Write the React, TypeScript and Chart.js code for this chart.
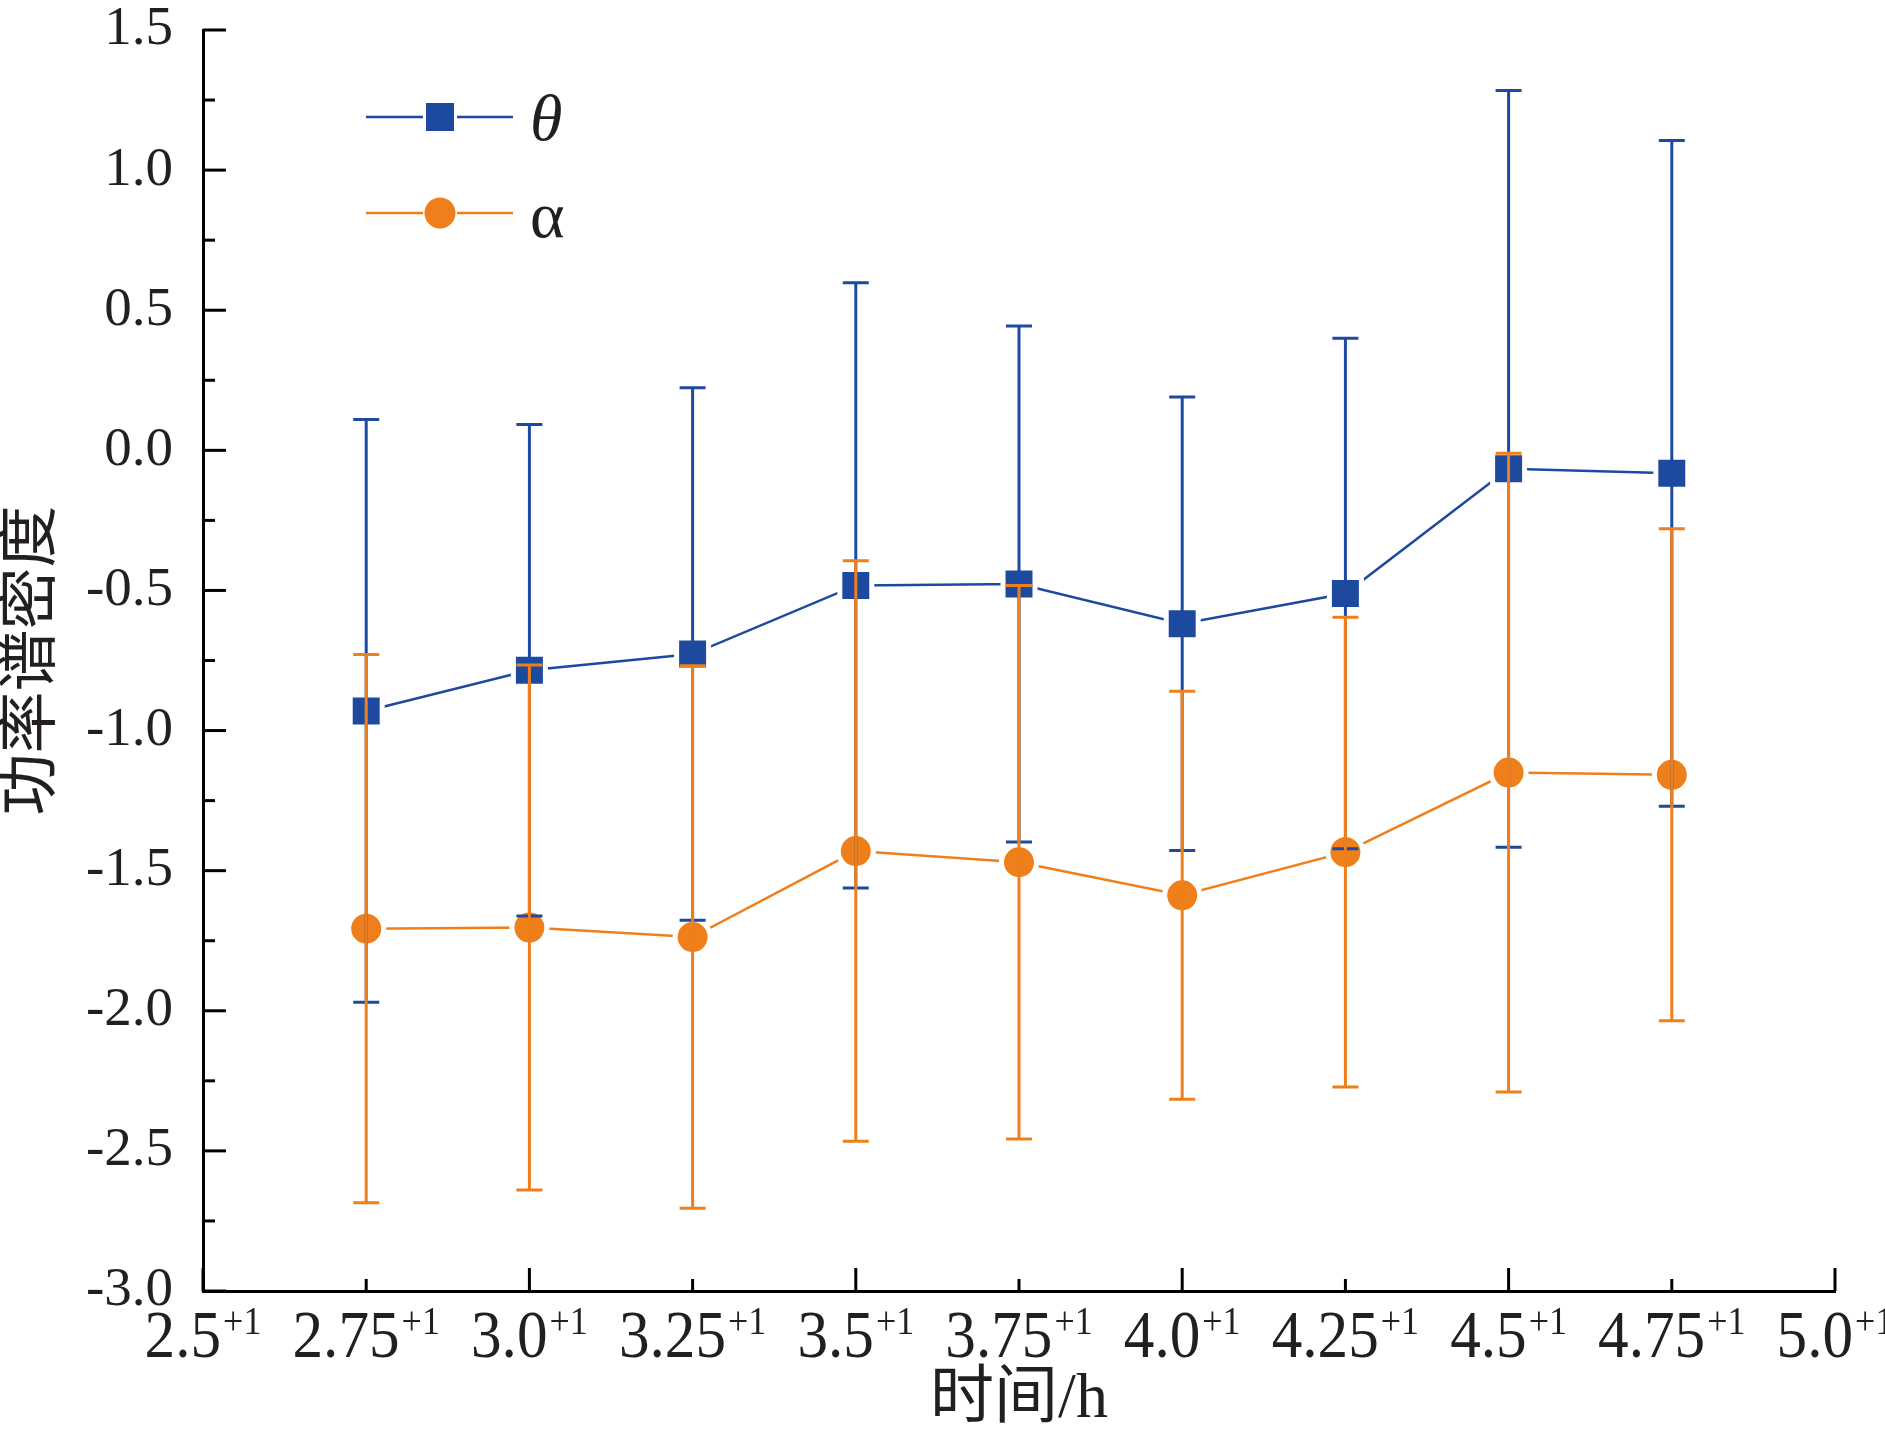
import React, { useEffect, useRef } from "react";
import { Chart, registerables } from "chart.js";

Chart.register(...registerables);

// ---- data ----
const times = [2.75, 3.0, 3.25, 3.5, 3.75, 4.0, 4.25, 4.5, 4.75];
const thetaMean = [-0.93, -0.785, -0.727, -0.482, -0.477, -0.619, -0.511, -0.066, -0.082];
const thetaErr = [1.04, 0.877, 0.95, 1.08, 0.921, 0.809, 0.911, 1.35, 1.188];
const alphaMean = [-1.707, -1.703, -1.737, -1.43, -1.47, -1.588, -1.434, -1.15, -1.158];
const alphaErr = [0.978, 0.937, 0.968, 1.036, 0.988, 0.728, 0.838, 1.14, 0.878];
const seriesNames = ["θ", "α"];
const xTickSuffix = "+1";
const xTitle = "时间/h";
const yTitle = "功率谱密度";

const BLUE = "#1d4a9e";
const ORANGE = "#ef7f1a";
const INK = "#231f20";
const SERIF = '"Liberation Serif", "Times New Roman", "Noto Sans CJK SC", serif';

const isHalf = (v: number) => Math.abs(v * 2 - Math.round(v * 2)) < 1e-6;

const errorBarPlugin = {
  id: "errorBars",
  afterDatasetsDraw(chart: any) {
    const { ctx } = chart;
    const xs = chart.scales.x;
    const ys = chart.scales.y;
    const groups = [
      { mean: thetaMean, err: thetaErr, color: BLUE },
      { mean: alphaMean, err: alphaErr, color: ORANGE },
    ];
    ctx.save();
    ctx.lineWidth = 3;
    ctx.lineCap = "butt";
    for (const g of groups) {
      ctx.strokeStyle = g.color;
      times.forEach((t, i) => {
        const px = xs.getPixelForValue(t);
        const top = ys.getPixelForValue(g.mean[i] + g.err[i]);
        const bot = ys.getPixelForValue(g.mean[i] - g.err[i]);
        ctx.beginPath();
        ctx.moveTo(px, top);
        ctx.lineTo(px, bot);
        ctx.moveTo(px - 13, top);
        ctx.lineTo(px + 13, top);
        ctx.moveTo(px - 13, bot);
        ctx.lineTo(px + 13, bot);
        ctx.stroke();
      });
    }
    ctx.restore();
  },
};

const axisDecorPlugin = {
  id: "axisDecor",
  afterDraw(chart: any) {
    const { ctx, chartArea: a } = chart;
    const xs = chart.scales.x;
    const ys = chart.scales.y;
    ctx.save();
    // inward ticks
    ctx.strokeStyle = "#000";
    ctx.lineWidth = 3;
    for (const t of ys.ticks) {
      const py = ys.getPixelForValue(t.value);
      const len = isHalf(t.value) ? 23 : 12;
      ctx.beginPath();
      ctx.moveTo(a.left, py);
      ctx.lineTo(a.left + len, py);
      ctx.stroke();
    }
    for (const t of xs.ticks) {
      const px = xs.getPixelForValue(t.value);
      const len = isHalf(t.value) ? 23 : 12;
      ctx.beginPath();
      ctx.moveTo(px, a.bottom);
      ctx.lineTo(px, a.bottom - len);
      ctx.stroke();
    }
    // x tick labels with superscript
    ctx.fillStyle = INK;
    ctx.textAlign = "left";
    ctx.textBaseline = "alphabetic";
    const mainFont = `68px ${SERIF}`;
    const supFont = `40px ${SERIF}`;
    const sx = 0.9;
    for (const t of xs.ticks) {
      const v = t.value;
      const main = isHalf(v) ? v.toFixed(1) : v.toFixed(2);
      ctx.font = mainFont;
      const wm = ctx.measureText(main).width * sx;
      ctx.font = supFont;
      const ws = ctx.measureText(xTickSuffix).width * sx;
      const total = wm + 2 + ws;
      const x0 = xs.getPixelForValue(v) - total / 2;
      ctx.save();
      ctx.translate(x0, a.bottom + 66);
      ctx.scale(sx, 1);
      ctx.font = mainFont;
      ctx.fillText(main, 0, 0);
      ctx.restore();
      ctx.save();
      ctx.translate(x0 + wm + 2, a.bottom + 43);
      ctx.scale(sx, 1);
      ctx.font = supFont;
      ctx.fillText(xTickSuffix, 0, 0);
      ctx.restore();
    }

    // legend
    const rows = [
      { name: seriesNames[0], color: BLUE, shape: "rect", italic: true, dy: 87, base: 110 },
      { name: seriesNames[1], color: ORANGE, shape: "circle", italic: false, dy: 183, base: 207 },
    ];
    for (const r of rows) {
      const cy = a.top + r.dy;
      const cx = a.left + 237;
      ctx.strokeStyle = r.color;
      ctx.lineWidth = 2.5;
      ctx.beginPath();
      ctx.moveTo(a.left + 163, cy);
      ctx.lineTo(cx - 17, cy);
      ctx.moveTo(cx + 17, cy);
      ctx.lineTo(a.left + 310, cy);
      ctx.stroke();
      ctx.fillStyle = r.color;
      ctx.beginPath();
      if (r.shape === "rect") {
        ctx.rect(cx - 14, cy - 14, 28, 28);
      } else {
        ctx.arc(cx, cy, 15.5, 0, Math.PI * 2);
      }
      ctx.fill();
      ctx.fillStyle = INK;
      ctx.font = `${r.italic ? "italic " : ""}66px ${SERIF}`;
      ctx.fillText(r.name, a.left + 327, a.top + r.base);
    }
    ctx.restore();
  },
};

export default function App() {
  const canvasRef = useRef<HTMLCanvasElement | null>(null);

  useEffect(() => {
    document.body.style.margin = "0";
    const canvas = canvasRef.current;
    if (!canvas) return;
    const chart = new Chart(canvas, {
      type: "scatter",
      data: {
        datasets: [
          {
            label: seriesNames[0],
            data: times.map((t, i) => ({ x: t, y: thetaMean[i] })),
            showLine: true,
            borderColor: BLUE,
            borderWidth: 2.5,
            backgroundColor: BLUE,
            pointStyle: "rect",
            pointRadius: 22.6,
            pointBorderColor: "#ffffff",
            pointBorderWidth: 5,
            pointBackgroundColor: BLUE,
          },
          {
            label: seriesNames[1],
            data: times.map((t, i) => ({ x: t, y: alphaMean[i] })),
            showLine: true,
            borderColor: ORANGE,
            borderWidth: 2.5,
            backgroundColor: ORANGE,
            pointStyle: "circle",
            pointRadius: 17.5,
            pointBorderColor: "#ffffff",
            pointBorderWidth: 5,
            pointBackgroundColor: ORANGE,
          },
        ],
      },
      options: {
        responsive: false,
        animation: false,
        devicePixelRatio: 1,
        events: [],
        layout: { padding: { left: 0, top: 30, right: 50, bottom: 0 } },
        plugins: {
          legend: { display: false },
          tooltip: { enabled: false },
          title: { display: false },
        },
        scales: {
          x: {
            type: "linear",
            min: 2.5,
            max: 5.0,
            ticks: { stepSize: 0.25, autoSkip: false, display: false },
            grid: { display: false, drawTicks: false },
            border: { display: true, color: "#000", width: 3 },
            title: {
              display: true,
              text: xTitle,
              color: INK,
              font: { family: SERIF, size: 64, lineHeight: 1.2 },
              padding: { top: 0, bottom: 6 },
            },
            afterFit: (s: any) => {
              s.height = 154;
              s.paddingLeft = 0;
              s.paddingRight = 0;
            },
          },
          y: {
            type: "linear",
            min: -3,
            max: 1.5,
            ticks: {
              stepSize: 0.25,
              autoSkip: false,
              padding: 30,
              color: INK,
              font: { family: SERIF, size: 55 },
              callback: (v: any) => (isHalf(Number(v)) ? Number(v).toFixed(1) : ""),
            },
            grid: { display: false, drawTicks: false },
            border: { display: true, color: "#000", width: 3 },
            title: {
              display: true,
              text: yTitle,
              color: INK,
              font: { family: SERIF, size: 62, lineHeight: 1.1 },
              padding: { top: 0, bottom: 0 },
            },
            afterFit: (s: any) => {
              s.width = 203;
              s.paddingTop = 0;
              s.paddingBottom = 0;
            },
          },
        },
      } as any,
      plugins: [errorBarPlugin, axisDecorPlugin],
    });
    return () => chart.destroy();
  }, []);

  return (
    <div style={{ width: 1885, height: 1445, background: "#fff" }}>
      <canvas ref={canvasRef} width={1885} height={1445} style={{ display: "block" }} />
    </div>
  );
}
